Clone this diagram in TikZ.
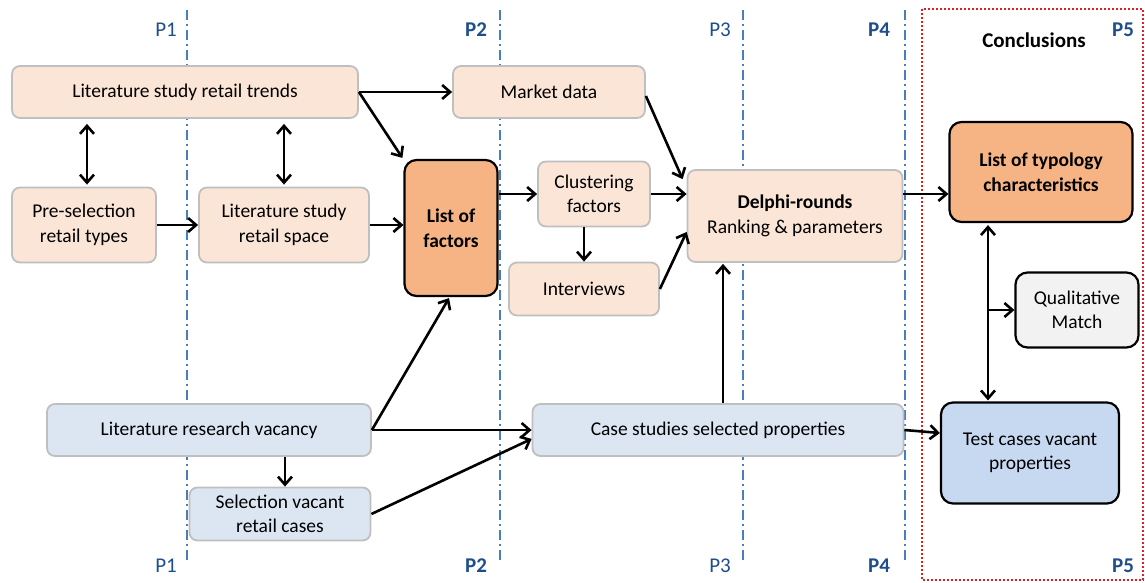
\documentclass[tikz,border=0pt]{standalone}
\usepackage{fontspec}
\setmainfont{Carlito}
\usetikzlibrary{arrows.meta}
\definecolor{peach}{HTML}{FBE5D6}
\definecolor{orangebox}{HTML}{F6B485}
\definecolor{lightblue}{HTML}{DCE6F2}
\definecolor{midblue}{HTML}{C6D9F1}
\definecolor{greybox}{HTML}{F2F2F2}
\definecolor{softedge}{HTML}{BFBFBF}
\definecolor{phaseline}{HTML}{4A7EBB}
\definecolor{phasetext}{HTML}{1F4E8C}
\definecolor{dotred}{HTML}{E02020}
\newcommand{\boxfont}{\fontsize{19.5}{24.5}\selectfont}
\newcommand{\tagfont}{\fontsize{21}{24}\selectfont}
\tikzset{
  every node/.style={font=\boxfont},
  softbox/.style={draw=softedge, line width=1.8pt, rounded corners=8pt, align=center, inner sep=0pt},
  strongbox/.style={draw=black, line width=2.2pt, rounded corners=12pt, align=center, inner sep=0pt},
  phase/.style={draw=phaseline, line width=2pt, dash pattern=on 10pt off 4pt on 2pt off 4pt},
  phaselabel/.style={text=phasetext, font=\tagfont},
  phasebold/.style={text=phasetext, font=\tagfont\bfseries},
  link/.style={line width=2.6pt, -{Straight Barb[length=8pt,width=14pt]}},
  duallink/.style={line width=2.6pt, {Straight Barb[length=8pt,width=14pt]}-{Straight Barb[length=8pt,width=14pt]}}
}
\begin{document}
\begin{tikzpicture}[x=1pt,y=-1pt]
\useasboundingbox (0,0) rectangle (1145,583);

% phase separators
\foreach \px in {187,500,743,905}{
  \draw[phase] (\px,10) -- (\px,562);
}
\node[phaselabel] (p1t) at (166,30) {P1};
\node[phasebold] (p2t) at (476,30) {P2};
\node[phaselabel] (p3t) at (720,30) {P3};
\node[phasebold] (p4t) at (879,30) {P4};
\node[phasebold] (p5t) at (1123,30) {P5};
\node[phaselabel] (p1b) at (166,566) {P1};
\node[phasebold] (p2b) at (476,566) {P2};
\node[phaselabel] (p3b) at (720,566) {P3};
\node[phasebold] (p4b) at (879,566) {P4};
\node[phasebold] (p5b) at (1123,566) {P5};

% conclusions frame
\draw[dotred, line width=2pt, dotted] (922,9) rectangle (1143,580);
\node[font=\tagfont\bfseries] (concl) at (1034,40) {Conclusions};

% retail boxes
\node[softbox, fill=peach, minimum width=346pt, minimum height=52pt] (trends) at (185,92) {Literature study retail trends};
\node[softbox, fill=peach, minimum width=144pt, minimum height=75pt] (presel) at (84,225) {Pre-selection\\retail types};
\node[softbox, fill=peach, minimum width=170pt, minimum height=75pt] (space) at (284,225) {Literature study\\retail space};
\node[strongbox, fill=orangebox, minimum width=93pt, minimum height=136pt, font=\boxfont\bfseries] (factors) at (451,228) {List of\\factors};
\node[softbox, fill=peach, minimum width=192pt, minimum height=52pt] (market) at (549,92) {Market data};
\node[softbox, fill=peach, minimum width=112pt, minimum height=65pt] (cluster) at (594,194) {Clustering\\factors};
\node[softbox, fill=peach, minimum width=150pt, minimum height=53pt] (interv) at (584,289) {Interviews};
\node[softbox, fill=peach, minimum width=215pt, minimum height=92pt] (delphi) at (795,216) {\textbf{Delphi-rounds}\\Ranking \& parameters};

% conclusion boxes
\node[strongbox, fill=orangebox, minimum width=183pt, minimum height=100pt, font=\boxfont\bfseries] (typo) at (1041,172) {List of typology\\characteristics};
\node[strongbox, fill=greybox, minimum width=123pt, minimum height=75pt] (qual) at (1077,310) {Qualitative\\Match};
\node[strongbox, fill=midblue, minimum width=178pt, minimum height=101pt] (test) at (1030,453) {Test cases vacant\\properties};

% vacancy boxes
\node[softbox, fill=lightblue, minimum width=324pt, minimum height=52pt] (vacancy) at (209,430) {Literature research vacancy};
\node[softbox, fill=lightblue, minimum width=181pt, minimum height=53pt] (select) at (280,514) {Selection vacant\\retail cases};
\node[softbox, fill=lightblue, minimum width=371pt, minimum height=52pt] (cases) at (718,430) {Case studies selected properties};

% connectors
\draw[duallink] ([yshift=-5pt]trends.south -| 87,0) -- ([yshift=2pt]presel.north -| 87,0);
\draw[duallink] ([yshift=-5pt]trends.south -| space.north) -- ([yshift=2pt]space.north);
\draw[link] (presel.east) -- (space.west);
\draw[link] (space.east) -- (space.east -| factors.west);
\draw[link] (trends.east) -- (market.west);
\draw[link] (trends.east) -- ([xshift=-1pt,yshift=1pt]factors.north west);
\draw[link] (factors.east |- cluster.east) -- (cluster.west);
\draw[link] (cluster.south -| interv.north) -- (interv.north);
\draw[link] (cluster.east) -- (cluster.east -| delphi.west);
\draw[link] ([yshift=-4pt]market.east) -- ([xshift=-4pt,yshift=-10pt]delphi.north west);
\draw[link] (interv.east) -- ([yshift=-16pt]delphi.west);
\draw[link] (cases.north -| 723,0) -- ([yshift=-1pt]delphi.south -| 723,0);
\draw[link] (cluster.east -| delphi.east) -- (cluster.east -| typo.west);
\draw[duallink] ([yshift=-2pt]typo.south -| 988,0) -- ([yshift=1pt]test.north -| 988,0);
\coordinate (qj) at (988,310);
\draw[link] (qj) -- (qual.west);
\draw[link] (vacancy.east) -- ([xshift=-2pt,yshift=-1pt]factors.south);
\draw[link] (vacancy.east) -- (cases.west);
\draw[link] (vacancy.south -| 285,0) -- (select.north -| 285,0);
\draw[link] (select.east) -- ([yshift=18pt]cases.south west);
\draw[link] (cases.east) -- ([yshift=20pt]test.west);
\end{tikzpicture}
\end{document}
